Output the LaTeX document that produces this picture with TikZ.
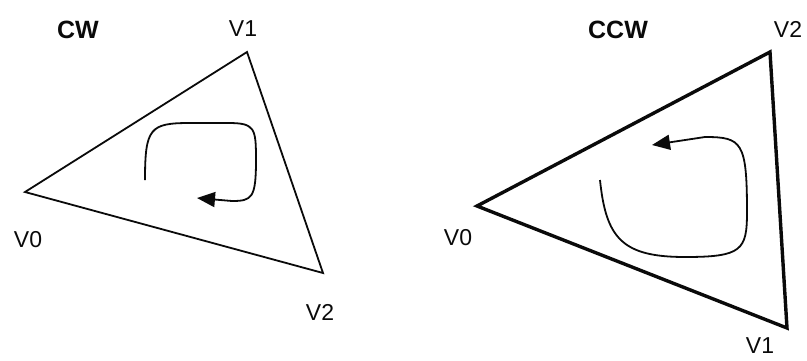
\documentclass[tikz,border=0pt]{standalone}
\usepackage{fontspec}
\setmainfont{Liberation Sans}
\usepackage{tikz}
\usetikzlibrary{arrows.meta, positioning}
\definecolor{lineblack}{RGB}{10, 10, 10}
\tikzset{
    vlabel/.style={font=\fontsize{23}{26}\selectfont, text=lineblack, inner sep=0pt},
    title/.style={font=\fontsize{25}{28}\selectfont\bfseries, text=lineblack, inner sep=0pt},
    edgethin/.style={draw=lineblack, line width=1.8pt, line join=miter},
    edgethick/.style={draw=lineblack, line width=3.4pt, line join=miter},
    winding/.style={draw=lineblack, line width=1.8pt, -{Triangle[length=18pt, width=15pt]}}
}

\begin{document}
\begin{tikzpicture}[x=1pt, y=-1pt]
    \useasboundingbox (0,0) rectangle (807,360);
    % clockwise triangle
    \coordinate (cwA) at (25,192);
    \coordinate (cwB) at (247,52);
    \coordinate (cwC) at (323,273);
    \node[title] (cwtitle) at (78,30) {CW};
    \node[vlabel] (cwlab0) at (28,240) {V0};
    \node[vlabel] (cwlab1) at (243,29) {V1};
    \node[vlabel] (cwlab2) at (320,312) {V2};
    \draw[edgethin] (cwA) -- (cwB) -- (cwC) -- cycle;
    \draw[winding] (145,180) .. controls (145,128) and (150,123) .. (190,123)
        -- (228,123) .. controls (255,123) and (256,128) .. (256,160)
        .. controls (256,198) and (252,201) .. (232,201) -- (197,198);
    % counter-clockwise triangle
    \coordinate (ccwA) at (477,206);
    \coordinate (ccwB) at (787,328);
    \coordinate (ccwC) at (770,52);
    \node[title] (ccwtitle) at (618,30) {CCW};
    \node[vlabel] (ccwlab0) at (458,238) {V0};
    \node[vlabel] (ccwlab1) at (760,346) {V1};
    \node[vlabel] (ccwlab2) at (788,29) {V2};
    \draw[edgethick] (ccwA) -- (ccwB) -- (ccwC) -- cycle;
    \draw[winding] (600,180) .. controls (606,238) and (622,257) .. (685,257)
        .. controls (742,257) and (747,250) .. (747,212)
        .. controls (747,142) and (742,137) .. (705,137) -- (652,145);
\end{tikzpicture}
\end{document}
